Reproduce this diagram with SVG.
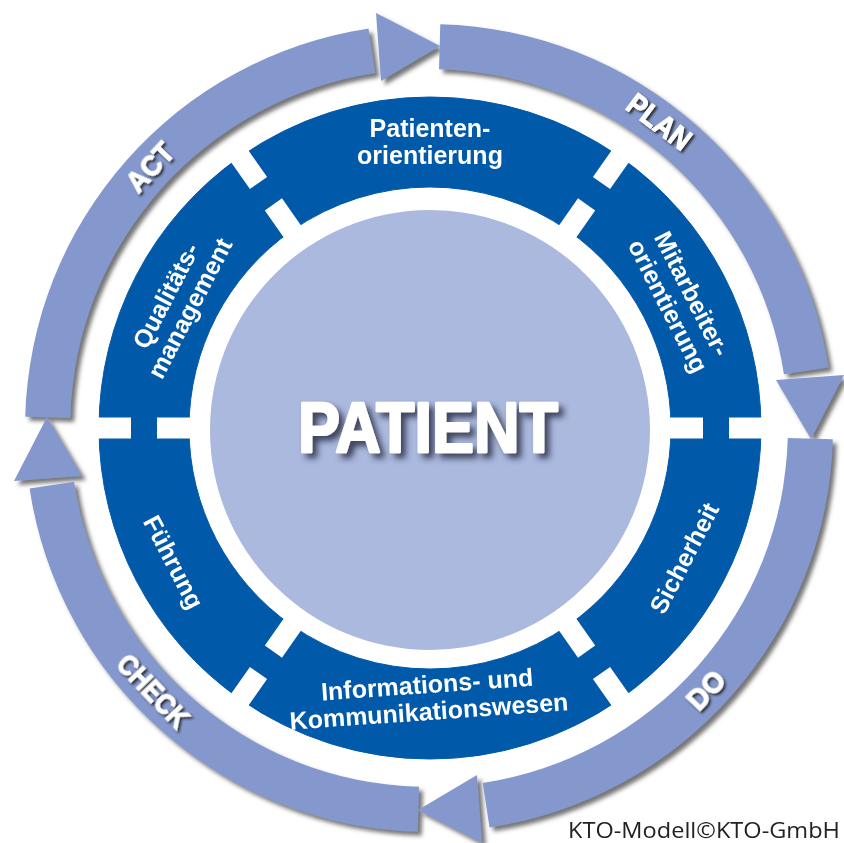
<svg xmlns="http://www.w3.org/2000/svg" xmlns:xlink="http://www.w3.org/1999/xlink" width="844" height="843" viewBox="0 0 844 843">
  <style>
    .ring { fill: #8498ce; }
    .seg { fill: #0059a9; stroke: #0059a9; stroke-width: 1; }
    .notch { fill: #ffffff; }
    .lbl { font-family: "Liberation Sans", Arial, sans-serif; font-weight: bold; font-size: 25px; fill: #ffffff; text-anchor: middle; }
    .pdca { font-family: "Liberation Sans", Arial, sans-serif; font-weight: bold; font-size: 30px; fill: #ffffff; stroke: #ffffff; stroke-width: 1; text-anchor: middle; }
    .center { font-family: "Liberation Sans", Arial, sans-serif; font-weight: bold; font-size: 71px; fill: #ffffff; stroke: #ffffff; stroke-width: 2.5; stroke-linejoin: round; text-anchor: middle; }
    .foot { font-family: "Open Sans", "Liberation Sans", sans-serif; font-size: 21px; fill: #222222; }
  </style>
  <defs>
    <filter id="ringShadow" x="-10%" y="-10%" width="120%" height="120%">
      <feDropShadow dx="4" dy="4" stdDeviation="2" flood-color="#555555" flood-opacity="0.8"/>
    </filter>
    <filter id="txtShadow" x="-20%" y="-20%" width="140%" height="140%">
      <feDropShadow dx="2" dy="2" stdDeviation="1" flood-color="#222222" flood-opacity="0.9"/>
    </filter>
    <filter id="bigShadow" x="-20%" y="-30%" width="140%" height="160%">
      <feDropShadow dx="5" dy="5" stdDeviation="3" flood-color="#2a2f45" flood-opacity="0.85"/>
    </filter>
    <g id="arcPiece">
      <path class="ring" d="M 440.28 24.16 A 404 404 0 0 1 828.46 367.59 L 783.96 374.31 A 359 359 0 0 0 439.02 69.14 Z"/>
      <polygon class="ring" points="376,13 381,81 440,46"/>
    </g>
  </defs>

  <!-- PDCA cycle (connectors) -->
  <g id="connectors" filter="url(#ringShadow)">
    <use xlink:href="#arcPiece"/>
    <use xlink:href="#arcPiece" transform="rotate(90 429 428)"/>
    <use xlink:href="#arcPiece" transform="rotate(180 429 428)"/>
    <use xlink:href="#arcPiece" transform="rotate(270 429 428)"/>
  </g>

  <g id="pdca-labels" filter="url(#txtShadow)">
    <text class="pdca" transform="translate(659,122) rotate(37)" y="10" textLength="72" lengthAdjust="spacingAndGlyphs">PLAN</text>
    <text class="pdca" transform="translate(706,690) rotate(-46.6)" y="10" textLength="42" lengthAdjust="spacingAndGlyphs">DO</text>
    <text class="pdca" transform="translate(153,691) rotate(46.3)" y="10" textLength="90" lengthAdjust="spacingAndGlyphs">CHECK</text>
    <text class="pdca" transform="translate(150,167) rotate(-46.9)" y="10" textLength="56" lengthAdjust="spacingAndGlyphs">ACT</text>
  </g>

  <!-- centre -->
  <g id="patient">
    <circle cx="430" cy="430" r="220" fill="#abb9de"/>
    <text class="center" x="428" y="452" textLength="260" lengthAdjust="spacingAndGlyphs" filter="url(#bigShadow)">PATIENT</text>
  </g>

  <g id="seg-patientenorientierung">
    <path class="seg" d="M 240.15 156.86 A 331 331 0 0 1 619.85 156.86 L 568.23 230.58 A 241 241 0 0 0 291.77 230.58 Z"/>
    <text class="lbl"><tspan x="430" y="137">Patienten-</tspan><tspan x="430" y="164">orientierung</tspan></text>
  </g>
  <g id="seg-mitarbeiterorientierung">
    <path class="seg" d="M 619.85 156.86 A 331 331 0 0 1 761 428 L 671 428 A 241 241 0 0 0 568.23 230.58 Z"/>
    <text class="lbl" transform="translate(680,300) rotate(63)"><tspan x="0" y="-5">Mitarbeiter-</tspan><tspan x="0" y="22">orientierung</tspan></text>
  </g>
  <g id="seg-sicherheit">
    <path class="seg" d="M 761 428 A 331 331 0 0 1 619.85 699.14 L 568.23 625.42 A 241 241 0 0 0 671 428 Z"/>
    <text class="lbl" transform="translate(684,558) rotate(-62.5)" x="0" y="9">Sicherheit</text>
  </g>
  <g id="seg-kommunikation">
    <path class="seg" d="M 619.85 699.14 A 331 331 0 0 1 240.15 699.14 L 291.77 625.42 A 241 241 0 0 0 568.23 625.42 Z"/>
    <text class="lbl" transform="translate(428,698) rotate(-4)"><tspan x="0" y="-5">Informations- und</tspan><tspan x="0" y="22">Kommunikationswesen</tspan></text>
  </g>
  <g id="seg-fuehrung">
    <path class="seg" d="M 240.15 699.14 A 331 331 0 0 1 99 428 L 189 428 A 241 241 0 0 0 291.77 625.42 Z"/>
    <text class="lbl" transform="translate(174,562) rotate(62.5)" x="0" y="9">Führung</text>
  </g>
  <g id="seg-qualitaetsmanagement">
    <path class="seg" d="M 99 428 A 331 331 0 0 1 240.15 156.86 L 291.77 230.58 A 241 241 0 0 0 189 428 Z"/>
    <text class="lbl" transform="translate(178,302) rotate(-62.5)"><tspan x="0" y="-5">Qualitäts-</tspan><tspan x="0" y="22">management</tspan></text>
  </g>

  <!-- separators -->
  <g id="separators" class="notch">
    <g id="sep0">
      <rect x="729" y="417.5" width="38" height="21"/>
      <rect x="665" y="417.5" width="38" height="21"/>
    </g>
    <use xlink:href="#sep0" transform="rotate(55 430 428)"/>
    <use xlink:href="#sep0" transform="rotate(125 430 428)"/>
    <use xlink:href="#sep0" transform="rotate(180 430 428)"/>
    <use xlink:href="#sep0" transform="rotate(235 430 428)"/>
    <use xlink:href="#sep0" transform="rotate(305 430 428)"/>
  </g>

  <text class="foot" x="568" y="838" textLength="272" lengthAdjust="spacingAndGlyphs">KTO-Modell©KTO-GmbH</text>
</svg>
